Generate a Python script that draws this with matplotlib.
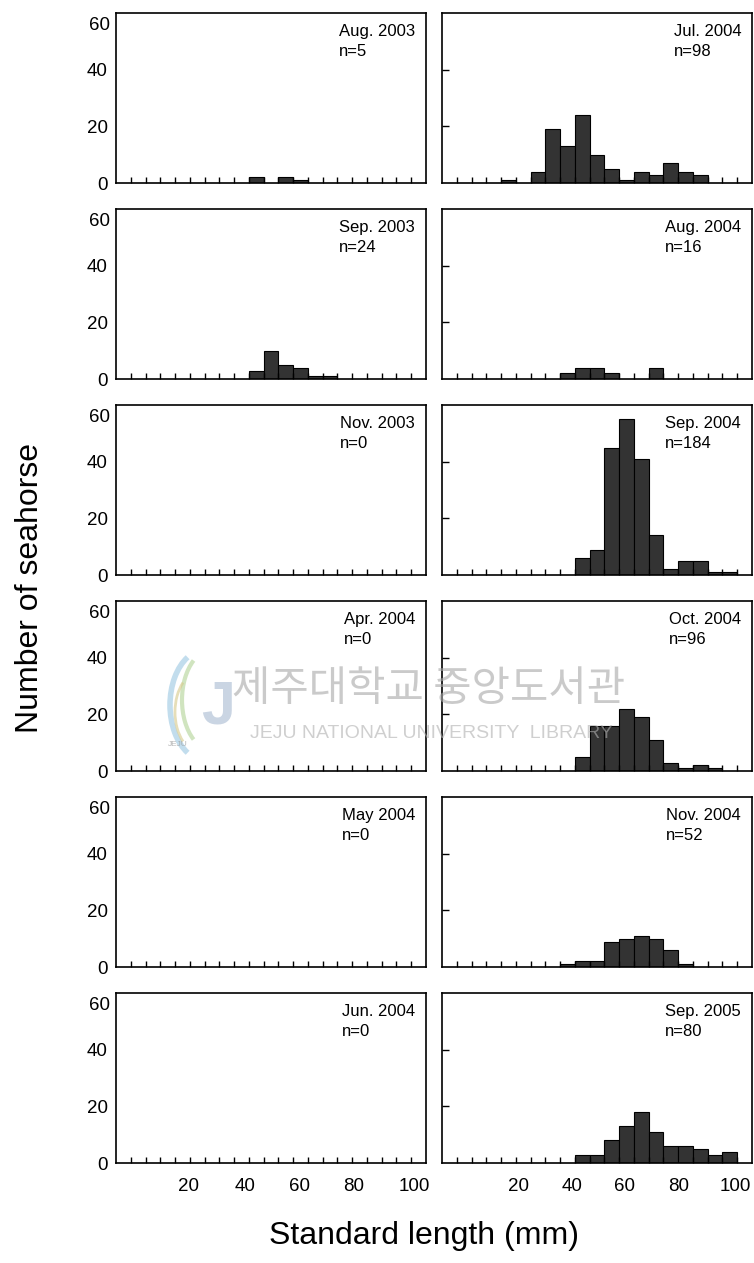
import numpy as np
import matplotlib
matplotlib.use('Agg')
import matplotlib.pyplot as plt
from matplotlib.patches import Arc

plt.rcParams['font.family'] = ['Liberation Sans', 'DejaVu Sans']

# 5 mm length classes (lower edge, mm)
bins = np.arange(0, 105, 5)

aug2003 = [0,0,0,0,0,0,0,0,0,2,0,2,1,0,0,0,0,0,0,0,0]
sep2003 = [0,0,0,0,0,0,0,0,0,3,10,5,4,1,1,0,0,0,0,0,0]
nov2003 = [0] * 21
apr2004 = [0] * 21
may2004 = [0] * 21
jun2004 = [0] * 21
jul2004 = [0,0,0,0,1,0,4,19,13,24,10,5,1,4,3,7,4,3,0,0,0]
aug2004 = [0,0,0,0,0,0,0,0,2,4,4,2,0,0,4,0,0,0,0,0,0]
sep2004 = [0,0,0,0,0,0,0,0,0,6,9,45,55,41,14,2,5,5,1,1,0]
oct2004 = [0,0,0,0,0,0,0,0,0,5,16,16,22,19,11,3,1,2,1,0,0]
nov2004 = [0,0,0,0,0,0,0,0,1,2,2,9,10,11,10,6,1,0,0,0,0]
sep2005 = [0,0,0,0,0,0,0,0,0,3,3,8,13,18,11,6,6,5,3,4,0]

left_titles = ['Aug. 2003', 'Sep. 2003', 'Nov. 2003', 'Apr. 2004', 'May 2004', 'Jun. 2004']
left_n = [5, 24, 0, 0, 0, 0]
left_counts = [aug2003, sep2003, nov2003, apr2004, may2004, jun2004]

right_titles = ['Jul. 2004', 'Aug. 2004', 'Sep. 2004', 'Oct. 2004', 'Nov. 2004', 'Sep. 2005']
right_n = [98, 16, 184, 96, 52, 80]
right_counts = [jul2004, aug2004, sep2004, oct2004, nov2004, sep2005]

xtick_labels = ['20', '40', '60', '80', '100']
# hand placed label positions under each column (mm)
xtick_pos_left = [24.5, 43.8, 62, 80.5, 101]
xtick_pos_right = [26, 44, 61.7, 80, 99.3]

W, H = 754, 1263
fig = plt.figure(figsize=(W / 100, H / 100), dpi=100)

col_x = [116, 442]
for r in range(6):
    top = 13 + 196 * r
    for c in range(2):
        ax = fig.add_axes([col_x[c] / W, 1 - (top + 170) / H, 310 / W, 170 / H])
        if c == 0:
            counts, title, n = left_counts[r], left_titles[r], left_n[r]
        else:
            counts, title, n = right_counts[r], right_titles[r], right_n[r]
        counts = np.array(counts)
        m = counts > 0
        ax.bar(bins[m], counts[m], width=5, align='edge', color='#333333',
               edgecolor='black', linewidth=0.8)
        ax.set_xlim(0, 105)
        ax.set_ylim(0, 60)
        for s in ax.spines.values():
            s.set_linewidth(1.2)

        ax.set_xticks(np.arange(5, 105, 5), minor=True)
        ax.tick_params(axis='x', which='minor', direction='in', length=4, width=1)
        if r == 5:
            pos = xtick_pos_left if c == 0 else xtick_pos_right
            ax.set_xticks(pos, xtick_labels)
            ax.tick_params(axis='x', which='major', length=0, pad=11, labelsize=13.5)
        else:
            ax.set_xticks([])

        ax.set_yticks([20, 40], minor=True)
        ax.tick_params(axis='y', which='minor', direction='in', length=5, width=1)
        if c == 0:
            ax.set_yticks([0, 20, 40], ['0', '20', '40'])
            ax.tick_params(axis='y', which='major', length=0, pad=6, labelsize=13.5)
            ax.text(-0.018, 0.975, '60', transform=ax.transAxes, ha='right', va='top',
                    fontsize=13.5)
        else:
            ax.set_yticks([])

        ax.text(0.965, 0.935, f'{title}\nn={n}', transform=ax.transAxes,
                ha='right', va='top', multialignment='left', fontsize=12,
                linespacing=1.45)

# watermark of the scanned source (logo + library name)
wm = fig.add_axes([0, 0, 1, 1], zorder=5)
wm.set_xlim(0, W)
wm.set_ylim(H, 0)
wm.axis('off')
wm.add_patch(Arc((205, 705), 70, 110, theta1=110, theta2=250, color='#a9cfe6', lw=4, alpha=0.7))
wm.add_patch(Arc((212, 700), 60, 100, theta1=115, theta2=245, color='#bcd9a5', lw=3, alpha=0.7))
wm.add_patch(Arc((200, 712), 50, 80, theta1=120, theta2=240, color='#d6c98a', lw=2, alpha=0.6))
wm.text(218, 708, 'J', fontsize=44, color='#9fb3cc', alpha=0.55, ha='center', va='center',
        fontweight='bold')
wm.text(178, 745, 'JEJU', fontsize=6, color='#9a9a9a', alpha=0.7, ha='center', va='center')
wm.text(232, 690, '제주대학교 중앙도서관', family=['Noto Sans CJK KR', 'DejaVu Sans'],
        fontsize=30, color='#a8a8a8', alpha=0.6, ha='left', va='center')
wm.text(250, 733, 'JEJU NATIONAL UNIVERSITY  LIBRARY', fontsize=14,
        color='#b0b0b0', alpha=0.6, ha='left', va='center')

fig.text(424 / W, 1 - 1236 / H, 'Standard length (mm)', ha='center', va='center', fontsize=23)
fig.text(30 / W, 1 - 588 / H, 'Number of seahorse', ha='center', va='center',
         rotation=90, fontsize=23)

fig.savefig('out.png', dpi=100)
